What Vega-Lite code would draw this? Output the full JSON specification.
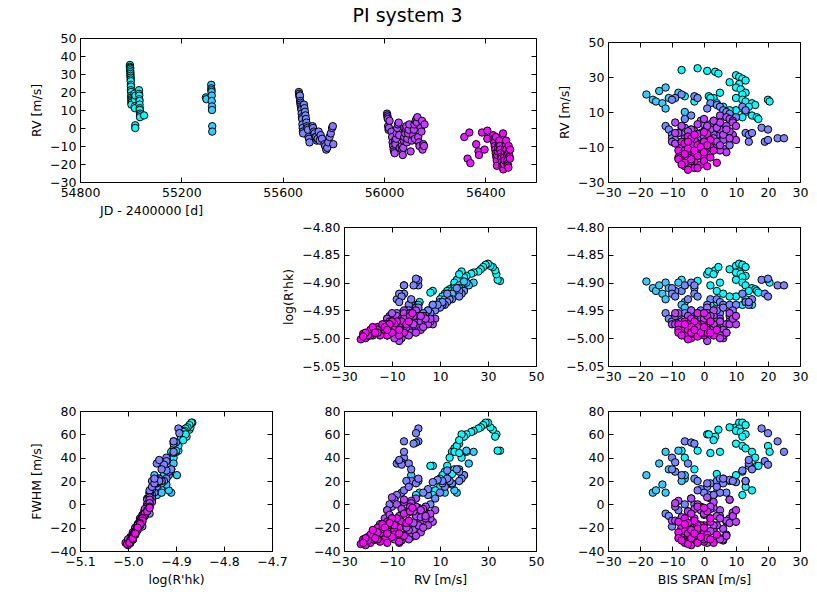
{
  "$schema": "https://vega.github.io/schema/vega-lite/v6.json",
  "padding": {"left": 30, "top": 7, "right": 5, "bottom": 5},
  "title": {"text": "PI system 3", "fontSize": 19, "fontWeight": "normal", "anchor": "start", "dx": 322, "offset": 6, "color": "black"},
  "data": {
    "values": [
      {"jd": 54997, "rv": 35, "bis": -2, "rhk": -4.897, "fwhm": 46},
      {"jd": 54997, "rv": 34, "bis": -7, "rhk": -4.895, "fwhm": 46},
      {"jd": 54998, "rv": 33.5, "bis": 1, "rhk": -4.885, "fwhm": 60},
      {"jd": 54998, "rv": 33, "bis": 3.5, "rhk": -4.878, "fwhm": 58},
      {"jd": 54998, "rv": 32, "bis": 4.5, "rhk": -4.872, "fwhm": 64},
      {"jd": 54999, "rv": 31, "bis": 10, "rhk": -4.870, "fwhm": 66},
      {"jd": 54999, "rv": 30, "bis": 11, "rhk": -4.866, "fwhm": 70},
      {"jd": 54999, "rv": 29, "bis": 12, "rhk": -4.868, "fwhm": 70},
      {"jd": 55000, "rv": 28, "bis": 13, "rhk": -4.872, "fwhm": 68},
      {"jd": 55000, "rv": 27, "bis": 8, "rhk": -4.876, "fwhm": 66},
      {"jd": 55000, "rv": 26, "bis": 11, "rhk": -4.880, "fwhm": 65},
      {"jd": 55001, "rv": 24, "bis": 10, "rhk": -4.882, "fwhm": 63},
      {"jd": 55001, "rv": 23, "bis": 11.5, "rhk": -4.884, "fwhm": 62},
      {"jd": 55001, "rv": 21, "bis": 13, "rhk": -4.888, "fwhm": 60},
      {"jd": 55002, "rv": 20, "bis": 12, "rhk": -4.890, "fwhm": 58},
      {"jd": 55002, "rv": 18, "bis": 10, "rhk": -4.895, "fwhm": 52},
      {"jd": 55002, "rv": 17, "bis": 12, "rhk": -4.900, "fwhm": 50},
      {"jd": 55003, "rv": 16, "bis": 13, "rhk": -4.905, "fwhm": 48},
      {"jd": 55003, "rv": 15, "bis": 15, "rhk": -4.910, "fwhm": 45},
      {"jd": 55003, "rv": 14, "bis": 16, "rhk": -4.912, "fwhm": 40},
      {"jd": 55003, "rv": 13, "bis": 14, "rhk": -4.915, "fwhm": 33},
      {"jd": 55015, "rv": 19, "bis": 1.5, "rhk": -4.880, "fwhm": 60},
      {"jd": 55015, "rv": 17, "bis": 20, "rhk": -4.895, "fwhm": 50},
      {"jd": 55016, "rv": 16, "bis": 20.5, "rhk": -4.900, "fwhm": 45},
      {"jd": 55016, "rv": 12, "bis": 12, "rhk": -4.920, "fwhm": 28},
      {"jd": 55017, "rv": 11, "bis": 10, "rhk": -4.925, "fwhm": 25},
      {"jd": 55018, "rv": 1.5, "bis": 4, "rhk": -4.935, "fwhm": 10},
      {"jd": 55018, "rv": 0, "bis": 2, "rhk": -4.940, "fwhm": 8},
      {"jd": 55019, "rv": 18, "bis": 3, "rhk": -4.885, "fwhm": 55},
      {"jd": 55033, "rv": 21, "bis": 5, "rhk": -4.900, "fwhm": 45},
      {"jd": 55033, "rv": 19, "bis": -6, "rhk": -4.905, "fwhm": 40},
      {"jd": 55034, "rv": 18, "bis": 2, "rhk": -4.905, "fwhm": 44},
      {"jd": 55034, "rv": 16, "bis": -3, "rhk": -4.910, "fwhm": 30},
      {"jd": 55035, "rv": 15, "bis": 4, "rhk": -4.915, "fwhm": 26},
      {"jd": 55035, "rv": 13, "bis": 6, "rhk": -4.920, "fwhm": 22},
      {"jd": 55036, "rv": 11, "bis": 8, "rhk": -4.925, "fwhm": 20},
      {"jd": 55036, "rv": 10, "bis": 13, "rhk": -4.930, "fwhm": 15},
      {"jd": 55037, "rv": 8, "bis": 15, "rhk": -4.940, "fwhm": 12},
      {"jd": 55037, "rv": 7, "bis": 16.5, "rhk": -4.915, "fwhm": 33},
      {"jd": 55037, "rv": 6, "bis": 17, "rhk": -4.918, "fwhm": 33},
      {"jd": 55053, "rv": 7, "bis": 12, "rhk": -4.940, "fwhm": 8},
      {"jd": 55297, "rv": 17, "bis": -16, "rhk": -4.910, "fwhm": 10},
      {"jd": 55299, "rv": 16, "bis": -15, "rhk": -4.915, "fwhm": 12},
      {"jd": 55318, "rv": 24, "bis": -12, "rhk": -4.900, "fwhm": 45},
      {"jd": 55318, "rv": 22, "bis": -14, "rhk": -4.905, "fwhm": 35},
      {"jd": 55319, "rv": 21, "bis": -8, "rhk": -4.900, "fwhm": 46},
      {"jd": 55319, "rv": 20, "bis": -18, "rhk": -4.898, "fwhm": 25},
      {"jd": 55320, "rv": 18, "bis": -11, "rhk": -4.910, "fwhm": 30},
      {"jd": 55320, "rv": 15, "bis": -13, "rhk": -4.920, "fwhm": 17},
      {"jd": 55321, "rv": 12, "bis": -12, "rhk": -4.930, "fwhm": 10},
      {"jd": 55321, "rv": 10, "bis": -6, "rhk": -4.935, "fwhm": 22},
      {"jd": 55322, "rv": 1, "bis": -7, "rhk": -4.940, "fwhm": 20},
      {"jd": 55322, "rv": -2, "bis": -6, "rhk": -4.945, "fwhm": 25},
      {"jd": 55664, "rv": 20, "bis": -7, "rhk": -4.915, "fwhm": 25},
      {"jd": 55665, "rv": 19, "bis": -3, "rhk": -4.920, "fwhm": 22},
      {"jd": 55666, "rv": 18, "bis": -9, "rhk": -4.915, "fwhm": 28},
      {"jd": 55667, "rv": 17, "bis": -10, "rhk": -4.910, "fwhm": 30},
      {"jd": 55668, "rv": 18, "bis": -2, "rhk": -4.925, "fwhm": 20},
      {"jd": 55669, "rv": 15, "bis": 2, "rhk": -4.930, "fwhm": 18},
      {"jd": 55670, "rv": 14, "bis": 4, "rhk": -4.930, "fwhm": 20},
      {"jd": 55671, "rv": 13, "bis": 5, "rhk": -4.935, "fwhm": 22},
      {"jd": 55672, "rv": 12, "bis": 1, "rhk": -4.940, "fwhm": 15},
      {"jd": 55673, "rv": 11, "bis": 6, "rhk": -4.940, "fwhm": 18},
      {"jd": 55674, "rv": 10, "bis": 7, "rhk": -4.945, "fwhm": 10},
      {"jd": 55675, "rv": 8, "bis": -4, "rhk": -4.950, "fwhm": 5},
      {"jd": 55676, "rv": 6, "bis": -6, "rhk": -4.955, "fwhm": 0},
      {"jd": 55677, "rv": 5, "bis": 3, "rhk": -4.950, "fwhm": 8},
      {"jd": 55678, "rv": 2, "bis": -12, "rhk": -4.955, "fwhm": -8},
      {"jd": 55679, "rv": 0, "bis": -11, "rhk": -4.965, "fwhm": -10},
      {"jd": 55680, "rv": -2, "bis": -8, "rhk": -4.960, "fwhm": -5},
      {"jd": 55681, "rv": -3, "bis": -10, "rhk": -4.970, "fwhm": -19},
      {"jd": 55684, "rv": 13, "bis": 12, "rhk": -4.920, "fwhm": 29},
      {"jd": 55686, "rv": 11, "bis": 13, "rhk": -4.935, "fwhm": 20},
      {"jd": 55688, "rv": 9, "bis": 8, "rhk": -4.940, "fwhm": 21},
      {"jd": 55690, "rv": 7, "bis": 10, "rhk": -4.940, "fwhm": 19},
      {"jd": 55692, "rv": 5, "bis": -1, "rhk": -4.950, "fwhm": 13},
      {"jd": 55694, "rv": 3, "bis": 0, "rhk": -4.955, "fwhm": 10},
      {"jd": 55696, "rv": 1, "bis": -6, "rhk": -4.905, "fwhm": 54},
      {"jd": 55698, "rv": 0, "bis": -4, "rhk": -4.900, "fwhm": 53},
      {"jd": 55700, "rv": -1, "bis": -3, "rhk": -4.905, "fwhm": 52},
      {"jd": 55702, "rv": -5, "bis": -10, "rhk": -4.920, "fwhm": 40},
      {"jd": 55704, "rv": -6, "bis": -9, "rhk": -4.925, "fwhm": 36},
      {"jd": 55706, "rv": -8, "bis": -5, "rhk": -4.930, "fwhm": 35},
      {"jd": 55718, "rv": 1, "bis": 18, "rhk": -4.895, "fwhm": 65},
      {"jd": 55720, "rv": 0, "bis": 20, "rhk": -4.893, "fwhm": 61},
      {"jd": 55723, "rv": -2, "bis": 13, "rhk": -4.935, "fwhm": 20},
      {"jd": 55726, "rv": -3, "bis": 14, "rhk": -4.940, "fwhm": 35},
      {"jd": 55729, "rv": -5, "bis": 23, "rhk": -4.905, "fwhm": 54},
      {"jd": 55732, "rv": -5, "bis": 25, "rhk": -4.905, "fwhm": 45},
      {"jd": 55735, "rv": -7, "bis": 19, "rhk": -4.920, "fwhm": 37},
      {"jd": 55738, "rv": -6, "bis": 20, "rhk": -4.925, "fwhm": 34},
      {"jd": 55742, "rv": -2, "bis": 15, "rhk": -4.930, "fwhm": 30},
      {"jd": 55746, "rv": -7, "bis": 14, "rhk": -4.935, "fwhm": 38},
      {"jd": 55750, "rv": -4, "bis": 9, "rhk": -4.950, "fwhm": 20},
      {"jd": 55755, "rv": -6, "bis": 5, "rhk": -4.955, "fwhm": 10},
      {"jd": 55765, "rv": -9, "bis": 2, "rhk": -4.960, "fwhm": 5},
      {"jd": 55768, "rv": -10, "bis": -1, "rhk": -4.960, "fwhm": -2},
      {"jd": 55772, "rv": -12, "bis": 0, "rhk": -4.965, "fwhm": -5},
      {"jd": 55776, "rv": -11, "bis": -3, "rhk": -4.960, "fwhm": 0},
      {"jd": 55780, "rv": -8, "bis": 3, "rhk": -4.955, "fwhm": 8},
      {"jd": 55785, "rv": -5, "bis": -2, "rhk": -4.955, "fwhm": 12},
      {"jd": 55790, "rv": -3, "bis": 4, "rhk": -4.950, "fwhm": 15},
      {"jd": 55795, "rv": 0, "bis": 1, "rhk": -4.945, "fwhm": 18},
      {"jd": 55798, "rv": 1, "bis": 6, "rhk": -4.945, "fwhm": 22},
      {"jd": 55800, "rv": -9, "bis": 8, "rhk": -4.960, "fwhm": 4},
      {"jd": 56012, "rv": 8, "bis": 5, "rhk": -4.965, "fwhm": -5},
      {"jd": 56013, "rv": 7, "bis": 7, "rhk": -4.975, "fwhm": -15},
      {"jd": 56014, "rv": 6, "bis": 8, "rhk": -4.970, "fwhm": -12},
      {"jd": 56015, "rv": 5, "bis": 9, "rhk": -4.965, "fwhm": -8},
      {"jd": 56016, "rv": 1, "bis": 3, "rhk": -4.960, "fwhm": -3},
      {"jd": 56018, "rv": -1, "bis": 0, "rhk": -4.985, "fwhm": -22},
      {"jd": 56020, "rv": 0, "bis": -4, "rhk": -4.950, "fwhm": 5},
      {"jd": 56022, "rv": 4, "bis": -9, "rhk": -4.960, "fwhm": -2},
      {"jd": 56030, "rv": -2, "bis": -8, "rhk": -4.955, "fwhm": 3},
      {"jd": 56032, "rv": -5, "bis": -6, "rhk": -4.990, "fwhm": -26},
      {"jd": 56034, "rv": -8, "bis": -2, "rhk": -4.960, "fwhm": 0},
      {"jd": 56036, "rv": -10, "bis": 1, "rhk": -4.955, "fwhm": 6},
      {"jd": 56038, "rv": -12, "bis": -1, "rhk": -4.965, "fwhm": -5},
      {"jd": 56040, "rv": -13, "bis": 2, "rhk": -4.975, "fwhm": -12},
      {"jd": 56042, "rv": -14, "bis": -3, "rhk": -4.980, "fwhm": -18},
      {"jd": 56044, "rv": -7, "bis": -10, "rhk": -4.975, "fwhm": -14},
      {"jd": 56045, "rv": -9, "bis": 4, "rhk": -4.995, "fwhm": -28},
      {"jd": 56048, "rv": -6, "bis": 6, "rhk": -5.000, "fwhm": -31},
      {"jd": 56050, "rv": -3, "bis": 3, "rhk": -4.985, "fwhm": -22},
      {"jd": 56052, "rv": 0, "bis": 5, "rhk": -4.970, "fwhm": -10},
      {"jd": 56055, "rv": 2, "bis": 7, "rhk": -4.975, "fwhm": -14},
      {"jd": 56058, "rv": 3, "bis": 2, "rhk": -4.960, "fwhm": -4},
      {"jd": 56060, "rv": -4, "bis": -5, "rhk": -4.965, "fwhm": -6},
      {"jd": 56062, "rv": -11, "bis": 6, "rhk": -4.985, "fwhm": -21},
      {"jd": 56070, "rv": -10, "bis": -7, "rhk": -4.985, "fwhm": -20},
      {"jd": 56072, "rv": -12, "bis": -4, "rhk": -4.990, "fwhm": -24},
      {"jd": 56074, "rv": -15, "bis": -2, "rhk": -4.980, "fwhm": -17},
      {"jd": 56076, "rv": -11, "bis": 0, "rhk": -4.970, "fwhm": -9},
      {"jd": 56078, "rv": -7, "bis": 1, "rhk": -5.005, "fwhm": -33},
      {"jd": 56080, "rv": -5, "bis": 3, "rhk": -4.950, "fwhm": 2},
      {"jd": 56082, "rv": -2, "bis": -1, "rhk": -4.990, "fwhm": -28},
      {"jd": 56084, "rv": -3, "bis": 9, "rhk": -4.965, "fwhm": -7},
      {"jd": 56085, "rv": 0, "bis": 2, "rhk": -4.960, "fwhm": -2},
      {"jd": 56088, "rv": 1, "bis": 4, "rhk": -4.980, "fwhm": -18},
      {"jd": 56090, "rv": -8, "bis": -9, "rhk": -4.975, "fwhm": -14},
      {"jd": 56092, "rv": -6, "bis": -3, "rhk": -4.965, "fwhm": -4},
      {"jd": 56095, "rv": -3, "bis": 6, "rhk": -4.995, "fwhm": -30},
      {"jd": 56098, "rv": -1, "bis": 8, "rhk": -4.975, "fwhm": -16},
      {"jd": 56100, "rv": 2, "bis": -7, "rhk": -4.970, "fwhm": -11},
      {"jd": 56105, "rv": -13, "bis": 7, "rhk": -4.990, "fwhm": -26},
      {"jd": 56110, "rv": -7, "bis": 4, "rhk": -4.970, "fwhm": -10},
      {"jd": 56115, "rv": -4, "bis": 0, "rhk": -4.980, "fwhm": -20},
      {"jd": 56118, "rv": -1, "bis": -5, "rhk": -4.960, "fwhm": -6},
      {"jd": 56120, "rv": 2, "bis": 1, "rhk": -4.985, "fwhm": -24},
      {"jd": 56122, "rv": -6, "bis": 10, "rhk": -4.975, "fwhm": -15},
      {"jd": 56125, "rv": 4, "bis": 5, "rhk": -4.970, "fwhm": -12},
      {"jd": 56128, "rv": 5, "bis": 3, "rhk": -4.975, "fwhm": -18},
      {"jd": 56130, "rv": 3, "bis": -2, "rhk": -4.980, "fwhm": -20},
      {"jd": 56132, "rv": 6, "bis": 0, "rhk": -4.965, "fwhm": -8},
      {"jd": 56135, "rv": -5, "bis": 8, "rhk": -4.955, "fwhm": 4},
      {"jd": 56138, "rv": -8, "bis": 2, "rhk": -4.985, "fwhm": -23},
      {"jd": 56140, "rv": -10, "bis": -3, "rhk": -4.970, "fwhm": -12},
      {"jd": 56145, "rv": 0, "bis": 7, "rhk": -4.990, "fwhm": -27},
      {"jd": 56148, "rv": -2, "bis": -9, "rhk": -4.955, "fwhm": 1},
      {"jd": 56150, "rv": 4, "bis": 9, "rhk": -4.965, "fwhm": -10},
      {"jd": 56152, "rv": -12, "bis": 5, "rhk": -4.995, "fwhm": -29},
      {"jd": 56155, "rv": -9, "bis": 5, "rhk": -5.000, "fwhm": -30},
      {"jd": 56158, "rv": -10, "bis": 0, "rhk": -4.980, "fwhm": -18},
      {"jd": 56160, "rv": 2, "bis": 10, "rhk": -4.960, "fwhm": -5},
      {"jd": 56317, "rv": -5, "bis": -4, "rhk": -4.965, "fwhm": -8},
      {"jd": 56330, "rv": -17, "bis": -7, "rhk": -4.990, "fwhm": -30},
      {"jd": 56337, "rv": -2.5, "bis": -2, "rhk": -4.955, "fwhm": -2},
      {"jd": 56341, "rv": -19.5, "bis": -5, "rhk": -4.995, "fwhm": -32},
      {"jd": 56364, "rv": -9, "bis": -3, "rhk": -4.975, "fwhm": -17},
      {"jd": 56373, "rv": -13, "bis": -6, "rhk": -4.985, "fwhm": -24},
      {"jd": 56375, "rv": -15, "bis": -1, "rhk": -4.985, "fwhm": -26},
      {"jd": 56387, "rv": -2.5, "bis": 1, "rhk": -4.960, "fwhm": -6},
      {"jd": 56397, "rv": -12, "bis": -4, "rhk": -4.980, "fwhm": -20},
      {"jd": 56408, "rv": -1.5, "bis": 0, "rhk": -4.955, "fwhm": -3},
      {"jd": 56408, "rv": -6, "bis": 2, "rhk": -4.970, "fwhm": -15},
      {"jd": 56431, "rv": -4, "bis": -5, "rhk": -4.975, "fwhm": -16},
      {"jd": 56433, "rv": -6, "bis": -3, "rhk": -4.990, "fwhm": -28},
      {"jd": 56434, "rv": -7, "bis": -7, "rhk": -4.980, "fwhm": -20},
      {"jd": 56435, "rv": -8, "bis": -6, "rhk": -4.970, "fwhm": -12},
      {"jd": 56437, "rv": -10, "bis": -2, "rhk": -4.985, "fwhm": -24},
      {"jd": 56439, "rv": -12, "bis": -8, "rhk": -4.975, "fwhm": -15},
      {"jd": 56441, "rv": -14, "bis": -4, "rhk": -4.990, "fwhm": -27},
      {"jd": 56442, "rv": -5, "bis": -4, "rhk": -4.990, "fwhm": -27},
      {"jd": 56443, "rv": -16, "bis": -5, "rhk": -4.980, "fwhm": -20},
      {"jd": 56445, "rv": -18, "bis": -3, "rhk": -4.995, "fwhm": -31},
      {"jd": 56446, "rv": -21, "bis": -6, "rhk": -4.995, "fwhm": -32},
      {"jd": 56447, "rv": -15, "bis": -7, "rhk": -4.985, "fwhm": -25},
      {"jd": 56449, "rv": -13, "bis": -1, "rhk": -4.975, "fwhm": -18},
      {"jd": 56451, "rv": -11, "bis": 1, "rhk": -4.990, "fwhm": -29},
      {"jd": 56453, "rv": -9, "bis": -4, "rhk": -4.980, "fwhm": -22},
      {"jd": 56454, "rv": -9, "bis": -2, "rhk": -4.975, "fwhm": -18},
      {"jd": 56455, "rv": -7, "bis": 0, "rhk": -4.995, "fwhm": -32},
      {"jd": 56457, "rv": -10, "bis": 2, "rhk": -4.970, "fwhm": -12},
      {"jd": 56459, "rv": -12, "bis": -6, "rhk": -4.985, "fwhm": -23},
      {"jd": 56461, "rv": -14, "bis": -2, "rhk": -4.980, "fwhm": -21},
      {"jd": 56462, "rv": -16, "bis": -8, "rhk": -4.985, "fwhm": -24},
      {"jd": 56463, "rv": -17, "bis": -8, "rhk": -4.990, "fwhm": -29},
      {"jd": 56465, "rv": -19, "bis": -6, "rhk": -4.995, "fwhm": -33},
      {"jd": 56467, "rv": -21, "bis": -4, "rhk": -5.000, "fwhm": -35},
      {"jd": 56469, "rv": -22, "bis": -3, "rhk": -4.992, "fwhm": -30},
      {"jd": 56470, "rv": -3, "bis": -3, "rhk": -4.970, "fwhm": -14},
      {"jd": 56471, "rv": -23, "bis": -5, "rhk": -5.002, "fwhm": -34},
      {"jd": 56473, "rv": -20, "bis": -1, "rhk": -4.990, "fwhm": -28},
      {"jd": 56475, "rv": -16, "bis": 0, "rhk": -4.985, "fwhm": -24},
      {"jd": 56476, "rv": -18, "bis": 0, "rhk": -4.990, "fwhm": -30},
      {"jd": 56477, "rv": -13, "bis": -3, "rhk": -4.990, "fwhm": -30},
      {"jd": 56479, "rv": -11, "bis": -5, "rhk": -4.975, "fwhm": -16},
      {"jd": 56481, "rv": -9, "bis": 1, "rhk": -4.985, "fwhm": -26},
      {"jd": 56482, "rv": -7, "bis": -5, "rhk": -4.985, "fwhm": -25},
      {"jd": 56483, "rv": -12, "bis": 3, "rhk": -4.995, "fwhm": -33},
      {"jd": 56485, "rv": -19, "bis": 4, "rhk": -4.985, "fwhm": -26},
      {"jd": 56486, "rv": -15, "bis": -2, "rhk": -4.995, "fwhm": -32},
      {"jd": 56487, "rv": -18, "bis": -4, "rhk": -4.980, "fwhm": -22},
      {"jd": 56488, "rv": -20, "bis": -7, "rhk": -4.995, "fwhm": -31},
      {"jd": 56489, "rv": -21, "bis": 1, "rhk": -4.990, "fwhm": -29},
      {"jd": 56490, "rv": -14, "bis": -6, "rhk": -4.975, "fwhm": -17},
      {"jd": 56491, "rv": -22, "bis": -2, "rhk": -4.997, "fwhm": -33},
      {"jd": 56492, "rv": -10, "bis": -1, "rhk": -4.990, "fwhm": -28},
      {"jd": 56494, "rv": -13, "bis": 0, "rhk": -4.980, "fwhm": -20},
      {"jd": 56496, "rv": -16, "bis": 2, "rhk": -4.990, "fwhm": -30},
      {"jd": 56497, "rv": -17, "bis": -4, "rhk": -4.990, "fwhm": -29},
      {"jd": 56498, "rv": -12, "bis": -3, "rhk": -4.985, "fwhm": -25}
    ]
  },
  "columns": 3,
  "align": "each",
  "bounds": "flush",
  "spacing": {"row": 45, "column": 72},
  "concat": [
    {
      "width": 192, "height": 144,
      "layer": [
        {
          "mark": {"type": "point", "filled": true, "size": 55, "stroke": "black", "strokeWidth": 1, "opacity": 1},
          "encoding": {
            "x": {"field": "jd", "type": "quantitative", "scale": {"domain": [54800, 56600], "range": [0, 456], "nice": false, "zero": false},
                  "axis": {"values": [54800, 55200, 55600, 56000, 56400], "format": "d", "title": "JD - 2400000 [d]", "titleX": 71}},
            "y": {"field": "rv", "type": "quantitative", "scale": {"domain": [-30, 50], "nice": false, "zero": false},
                  "axis": {"values": [-30, -20, -10, 0, 10, 20, 30, 40, 50], "format": "d", "title": "RV [m/s]"}},
            "color": {"field": "jd", "type": "quantitative", "scale": {"domain": [55000, 56500], "range": ["#00ffff", "#ff00ff"], "interpolate": "rgb"}, "legend": null}
          }
        },
        {
          "data": {"values": []},
          "mark": {"type": "point", "opacity": 0},
          "encoding": {
            "x": {"field": "jd", "type": "quantitative", "scale": {"domain": [54800, 56600], "range": [0, 456], "nice": false, "zero": false},
                  "axis": {"orient": "top", "values": [54800, 55200, 55600, 56000, 56400], "labels": false, "title": null}},
            "y": {"field": "rv", "type": "quantitative", "scale": {"domain": [-30, 50], "nice": false, "zero": false},
                  "axis": {"orient": "right", "offset": 264, "values": [-30, -20, -10, 0, 10, 20, 30, 40, 50], "labels": false, "title": null}}
          }
        }
      ],
      "resolve": {"axis": {"x": "independent", "y": "independent"}}
    },
    {
      "width": 192, "height": 144,
      "data": {"values": []},
      "mark": "point"
    },
    {
      "width": 192, "height": 144,
      "layer": [
        {
          "mark": {"type": "point", "filled": true, "size": 55, "stroke": "black", "strokeWidth": 1, "opacity": 1},
          "encoding": {
            "x": {"field": "bis", "type": "quantitative", "scale": {"domain": [-30, 30], "nice": false, "zero": false},
                  "axis": {"values": [-30, -20, -10, 0, 10, 20, 30], "format": "d", "title": null}},
            "y": {"field": "rv", "type": "quantitative", "scale": {"domain": [-30, 50], "range": [144, 4], "nice": false, "zero": false},
                  "axis": {"values": [-30, -10, 10, 30, 50], "format": "d", "title": "RV [m/s]"}},
            "color": {"field": "jd", "type": "quantitative", "scale": {"domain": [55000, 56500], "range": ["#00ffff", "#ff00ff"], "interpolate": "rgb"}, "legend": null}
          }
        },
        {
          "data": {"values": []},
          "mark": {"type": "point", "opacity": 0},
          "encoding": {
            "x": {"field": "bis", "type": "quantitative", "scale": {"domain": [-30, 30], "nice": false, "zero": false},
                  "axis": {"orient": "top", "offset": -4, "values": [-30, -20, -10, 0, 10, 20, 30], "labels": false, "title": null}},
            "y": {"field": "rv", "type": "quantitative", "scale": {"domain": [-30, 50], "range": [144, 4], "nice": false, "zero": false},
                  "axis": {"orient": "right", "values": [-30, -10, 10, 30, 50], "labels": false, "title": null}}
          }
        }
      ],
      "resolve": {"axis": {"x": "independent", "y": "independent"}}
    },
    {
      "width": 192, "height": 139,
      "data": {"values": []},
      "mark": "point"
    },
    {
      "width": 192, "height": 139,
      "layer": [
        {
          "mark": {"type": "point", "filled": true, "size": 55, "stroke": "black", "strokeWidth": 1, "opacity": 1},
          "encoding": {
            "x": {"field": "rv", "type": "quantitative", "scale": {"domain": [-30, 50], "nice": false, "zero": false},
                  "axis": {"values": [-30, -10, 10, 30, 50], "format": "d", "title": null}},
            "y": {"field": "rhk", "type": "quantitative", "scale": {"domain": [-5.05, -4.8], "nice": false, "zero": false},
                  "axis": {"values": [-5.05, -5.0, -4.95, -4.9, -4.85, -4.8], "format": ".2f", "title": "log(R'hk)"}},
            "color": {"field": "jd", "type": "quantitative", "scale": {"domain": [55000, 56500], "range": ["#00ffff", "#ff00ff"], "interpolate": "rgb"}, "legend": null}
          }
        },
        {
          "data": {"values": []},
          "mark": {"type": "point", "opacity": 0},
          "encoding": {
            "x": {"field": "rv", "type": "quantitative", "scale": {"domain": [-30, 50], "nice": false, "zero": false},
                  "axis": {"orient": "top", "values": [-30, -10, 10, 30, 50], "labels": false, "title": null}},
            "y": {"field": "rhk", "type": "quantitative", "scale": {"domain": [-5.05, -4.8], "nice": false, "zero": false},
                  "axis": {"orient": "right", "values": [-5.05, -5.0, -4.95, -4.9, -4.85, -4.8], "labels": false, "title": null}}
          }
        }
      ],
      "resolve": {"axis": {"x": "independent", "y": "independent"}}
    },
    {
      "width": 192, "height": 139,
      "layer": [
        {
          "mark": {"type": "point", "filled": true, "size": 55, "stroke": "black", "strokeWidth": 1, "opacity": 1},
          "encoding": {
            "x": {"field": "bis", "type": "quantitative", "scale": {"domain": [-30, 30], "nice": false, "zero": false},
                  "axis": {"values": [-30, -20, -10, 0, 10, 20, 30], "format": "d", "title": null}},
            "y": {"field": "rhk", "type": "quantitative", "scale": {"domain": [-5.05, -4.8], "nice": false, "zero": false},
                  "axis": {"values": [-5.05, -5.0, -4.95, -4.9, -4.85, -4.8], "format": ".2f", "title": null}},
            "color": {"field": "jd", "type": "quantitative", "scale": {"domain": [55000, 56500], "range": ["#00ffff", "#ff00ff"], "interpolate": "rgb"}, "legend": null}
          }
        },
        {
          "data": {"values": []},
          "mark": {"type": "point", "opacity": 0},
          "encoding": {
            "x": {"field": "bis", "type": "quantitative", "scale": {"domain": [-30, 30], "nice": false, "zero": false},
                  "axis": {"orient": "top", "values": [-30, -20, -10, 0, 10, 20, 30], "labels": false, "title": null}},
            "y": {"field": "rhk", "type": "quantitative", "scale": {"domain": [-5.05, -4.8], "nice": false, "zero": false},
                  "axis": {"orient": "right", "values": [-5.05, -5.0, -4.95, -4.9, -4.85, -4.8], "labels": false, "title": null}}
          }
        }
      ],
      "resolve": {"axis": {"x": "independent", "y": "independent"}}
    },
    {
      "width": 192, "height": 140,
      "layer": [
        {
          "mark": {"type": "point", "filled": true, "size": 55, "stroke": "black", "strokeWidth": 1, "opacity": 1},
          "encoding": {
            "x": {"field": "rhk", "type": "quantitative", "scale": {"domain": [-5.1, -4.7], "nice": false, "zero": false},
                  "axis": {"values": [-5.1, -5.0, -4.9, -4.8, -4.7], "format": ".1f", "title": "log(R'hk)"}},
            "y": {"field": "fwhm", "type": "quantitative", "scale": {"domain": [-40, 80], "nice": false, "zero": false},
                  "axis": {"values": [-40, -20, 0, 20, 40, 60, 80], "format": "d", "title": "FWHM [m/s]"}},
            "color": {"field": "jd", "type": "quantitative", "scale": {"domain": [55000, 56500], "range": ["#00ffff", "#ff00ff"], "interpolate": "rgb"}, "legend": null}
          }
        },
        {
          "data": {"values": []},
          "mark": {"type": "point", "opacity": 0},
          "encoding": {
            "x": {"field": "rhk", "type": "quantitative", "scale": {"domain": [-5.1, -4.7], "nice": false, "zero": false},
                  "axis": {"orient": "top", "values": [-5.1, -5.0, -4.9, -4.8, -4.7], "labels": false, "title": null}},
            "y": {"field": "fwhm", "type": "quantitative", "scale": {"domain": [-40, 80], "nice": false, "zero": false},
                  "axis": {"orient": "right", "values": [-40, -20, 0, 20, 40, 60, 80], "labels": false, "title": null}}
          }
        }
      ],
      "resolve": {"axis": {"x": "independent", "y": "independent"}}
    },
    {
      "width": 192, "height": 140,
      "layer": [
        {
          "mark": {"type": "point", "filled": true, "size": 55, "stroke": "black", "strokeWidth": 1, "opacity": 1},
          "encoding": {
            "x": {"field": "rv", "type": "quantitative", "scale": {"domain": [-30, 50], "nice": false, "zero": false},
                  "axis": {"values": [-30, -10, 10, 30, 50], "format": "d", "title": "RV [m/s]"}},
            "y": {"field": "fwhm", "type": "quantitative", "scale": {"domain": [-40, 80], "nice": false, "zero": false},
                  "axis": {"values": [-40, -20, 0, 20, 40, 60, 80], "format": "d", "title": null}},
            "color": {"field": "jd", "type": "quantitative", "scale": {"domain": [55000, 56500], "range": ["#00ffff", "#ff00ff"], "interpolate": "rgb"}, "legend": null}
          }
        },
        {
          "data": {"values": []},
          "mark": {"type": "point", "opacity": 0},
          "encoding": {
            "x": {"field": "rv", "type": "quantitative", "scale": {"domain": [-30, 50], "nice": false, "zero": false},
                  "axis": {"orient": "top", "values": [-30, -10, 10, 30, 50], "labels": false, "title": null}},
            "y": {"field": "fwhm", "type": "quantitative", "scale": {"domain": [-40, 80], "nice": false, "zero": false},
                  "axis": {"orient": "right", "values": [-40, -20, 0, 20, 40, 60, 80], "labels": false, "title": null}}
          }
        }
      ],
      "resolve": {"axis": {"x": "independent", "y": "independent"}}
    },
    {
      "width": 192, "height": 140,
      "layer": [
        {
          "mark": {"type": "point", "filled": true, "size": 55, "stroke": "black", "strokeWidth": 1, "opacity": 1},
          "encoding": {
            "x": {"field": "bis", "type": "quantitative", "scale": {"domain": [-30, 30], "nice": false, "zero": false},
                  "axis": {"values": [-30, -20, -10, 0, 10, 20, 30], "format": "d", "title": "BIS SPAN [m/s]"}},
            "y": {"field": "fwhm", "type": "quantitative", "scale": {"domain": [-40, 80], "nice": false, "zero": false},
                  "axis": {"values": [-40, -20, 0, 20, 40, 60, 80], "format": "d", "title": null}},
            "color": {"field": "jd", "type": "quantitative", "scale": {"domain": [55000, 56500], "range": ["#00ffff", "#ff00ff"], "interpolate": "rgb"}, "legend": null}
          }
        },
        {
          "data": {"values": []},
          "mark": {"type": "point", "opacity": 0},
          "encoding": {
            "x": {"field": "bis", "type": "quantitative", "scale": {"domain": [-30, 30], "nice": false, "zero": false},
                  "axis": {"orient": "top", "values": [-30, -20, -10, 0, 10, 20, 30], "labels": false, "title": null}},
            "y": {"field": "fwhm", "type": "quantitative", "scale": {"domain": [-40, 80], "nice": false, "zero": false},
                  "axis": {"orient": "right", "values": [-40, -20, 0, 20, 40, 60, 80], "labels": false, "title": null}}
          }
        }
      ],
      "resolve": {"axis": {"x": "independent", "y": "independent"}}
    }
  ],
  "config": {
    "font": "DejaVu Sans",
    "background": "white",
    "view": {"stroke": null},
    "axis": {
      "grid": false,
      "domain": true,
      "domainColor": "black",
      "domainWidth": 1,
      "tickSize": -5,
      "tickColor": "black",
      "tickWidth": 1,
      "labelFontSize": 12.5,
      "labelColor": "black",
      "labelPadding": 9,
      "labelFlush": false,
      "labelOverlap": false,
      "titleFontSize": 12.5,
      "titleFontWeight": "normal",
      "titleColor": "black",
      "titlePadding": 6
    }
  }
}
